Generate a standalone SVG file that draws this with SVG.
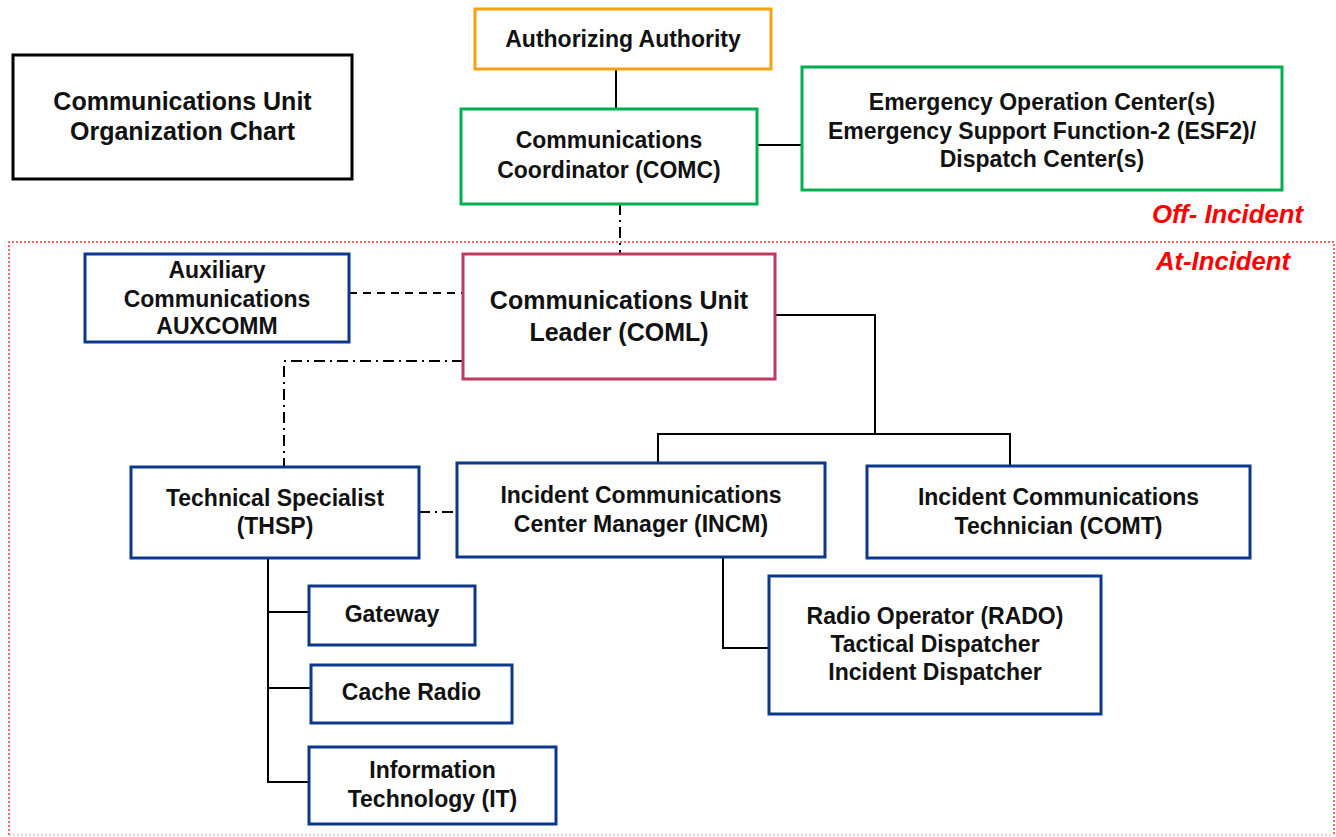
<svg xmlns="http://www.w3.org/2000/svg" width="1336" height="837" viewBox="0 0 1336 837">
<style>
  .box{fill:#fff;stroke-width:3}
  .navy{stroke:#0B388C}
  .green{stroke:#00B050}
  .orange{stroke:#F5A00F}
  .crimson{stroke:#BE3A60}
  .black{stroke:#000}
  text{font-family:"Liberation Sans",Arial,sans-serif;font-weight:bold;font-size:23px;fill:#111;text-anchor:middle}
  .title{font-size:25px}
  .zone{font-style:italic;font-size:25px;fill:#FF0000;text-anchor:start}
  .con{fill:none;stroke:#000;stroke-width:2}
  .dash{stroke-dasharray:8 6}
  .dashdot{stroke-dasharray:11 5 2 5}
</style>
<rect width="1336" height="837" fill="#fff"/>
<g id="zone-boundary">
  <path d="M9 835 V242 H1334 V835" fill="none" stroke="#FF3333" stroke-width="1.5" stroke-dasharray="2 2"/>
  <path d="M9 835 H1334" fill="none" stroke="#F7A0A0" stroke-width="1.2" stroke-dasharray="2 2"/>
  <text class="zone" x="1152" y="223" textLength="151" lengthAdjust="spacingAndGlyphs">Off- Incident</text>
  <text class="zone" x="1156" y="270" textLength="134" lengthAdjust="spacingAndGlyphs">At-Incident</text>
</g>
<g id="connectors">
  <path class="con" d="M616 69 V109"/>
  <path class="con" d="M757 145 H802"/>
  <path class="con dashdot" d="M620 204 V254"/>
  <path class="con dash" d="M349 293 H463"/>
  <path class="con dashdot" d="M463 361 H284 V467"/>
  <path class="con dashdot" d="M419 512 H457"/>
  <path class="con" d="M775 315 H875 V434"/>
  <path class="con" d="M658 463 V434 H1010 V466"/>
  <path class="con" d="M723 557 V648 H769"/>
  <path class="con" d="M268 558 V782 H309"/>
  <path class="con" d="M268 612 H309"/>
  <path class="con" d="M268 688 H311"/>
</g>
<g id="title">
  <rect class="box black" x="13" y="55" width="339" height="124"/>
  <text class="title" x="182.5" y="110">Communications Unit</text>
  <text class="title" x="182.5" y="140">Organization Chart</text>
</g>
<g id="authorizing-authority">
  <rect class="box orange" x="475" y="9" width="296" height="60"/>
  <text x="623" y="47">Authorizing Authority</text>
</g>
<g id="comc">
  <rect class="box green" x="461" y="109" width="296" height="95"/>
  <text x="609" y="148">Communications</text>
  <text x="609" y="178">Coordinator (COMC)</text>
</g>
<g id="eoc">
  <rect class="box green" x="802" y="67" width="480" height="123"/>
  <text x="1042" y="110">Emergency Operation Center(s)</text>
  <text x="1042" y="139">Emergency Support Function-2 (ESF2)/</text>
  <text x="1042" y="167">Dispatch Center(s)</text>
</g>
<g id="auxcomm">
  <rect class="box navy" x="85" y="254" width="264" height="88"/>
  <text x="217" y="278">Auxiliary</text>
  <text x="217" y="307">Communications</text>
  <text x="217" y="334">AUXCOMM</text>
</g>
<g id="coml">
  <rect class="box crimson" x="463" y="254" width="312" height="125"/>
  <text class="title" x="619" y="309">Communications Unit</text>
  <text class="title" x="619" y="341">Leader (COML)</text>
</g>
<g id="thsp">
  <rect class="box navy" x="131" y="467" width="288" height="91"/>
  <text x="275" y="506">Technical Specialist</text>
  <text x="275" y="534">(THSP)</text>
</g>
<g id="incm">
  <rect class="box navy" x="457" y="463" width="368" height="94"/>
  <text x="641" y="503">Incident Communications</text>
  <text x="641" y="532">Center Manager (INCM)</text>
</g>
<g id="comt">
  <rect class="box navy" x="867" y="466" width="383" height="92"/>
  <text x="1058.5" y="505">Incident Communications</text>
  <text x="1058.5" y="534">Technician (COMT)</text>
</g>
<g id="rado">
  <rect class="box navy" x="769" y="576" width="332" height="138"/>
  <text x="935" y="624">Radio Operator (RADO)</text>
  <text x="935" y="652">Tactical Dispatcher</text>
  <text x="935" y="680">Incident Dispatcher</text>
</g>
<g id="gateway">
  <rect class="box navy" x="309" y="586" width="166" height="59"/>
  <text x="392" y="622">Gateway</text>
</g>
<g id="cache-radio">
  <rect class="box navy" x="311" y="665" width="201" height="58"/>
  <text x="411.5" y="700">Cache Radio</text>
</g>
<g id="it">
  <rect class="box navy" x="309" y="747" width="247" height="77"/>
  <text x="432.5" y="778">Information</text>
  <text x="432.5" y="807">Technology (IT)</text>
</g>
</svg>
